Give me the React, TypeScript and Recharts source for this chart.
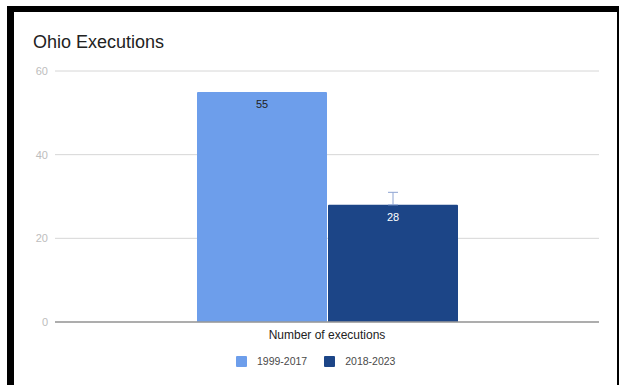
import React from "react";
import {
  Bar,
  BarChart,
  CartesianGrid,
  ErrorBar,
  LabelList,
  Legend,
  XAxis,
  YAxis,
} from "recharts";

const categories = ["Number of executions"];
const executions1999to2017 = [55];
const executions2018to2023 = [28];
const errors2018to2023 = [[0, 3]];
const seriesNames = ["1999-2017", "2018-2023"];
const seriesColors = ["#6d9eeb", "#1c4587"];
const yTicks = [0, 20, 40, 60];

const chartData = categories.map((name, i) => ({
  name,
  early: executions1999to2017[i],
  late: executions2018to2023[i],
  lateError: errors2018to2023[i],
}));

const font = "Arial, 'Liberation Sans', sans-serif";

function ChartLegend() {
  return (
    <div style={{ display: "flex", alignItems: "center", fontSize: 10.5, color: "#4a4a4a", fontFamily: font }}>
      {seriesNames.map((n, i) => (
        <div key={n} style={{ display: "flex", alignItems: "center", marginRight: i === 0 ? 17 : 0 }}>
          <span
            style={{
              display: "inline-block",
              width: 11,
              height: 11,
              background: seriesColors[i],
              borderRadius: 1,
              marginRight: 10,
            }}
          />
          {n}
        </div>
      ))}
    </div>
  );
}

export default function App() {
  return (
    <div style={{ position: "relative", width: 619, height: 385, background: "#fff", overflow: "hidden" }}>
      <style>{"body{margin:0}"}</style>
      <div style={{ position: "absolute", left: 7, top: 6, width: 612, height: 379, background: "#000" }} />
      <div style={{ position: "absolute", left: 14, top: 12, width: 603, height: 373, background: "#fff" }} />
      <div
        style={{
          position: "absolute",
          left: 33,
          top: 31,
          fontSize: 18,
          fontFamily: font,
          color: "#222",
          lineHeight: "22px",
        }}
      >
        Ohio Executions
      </div>
      <div style={{ position: "absolute", left: 0, top: 0 }}>
        <BarChart
          width={619}
          height={385}
          data={chartData}
          margin={{ top: 71, right: 20, bottom: 33, left: 25 }}
          barGap={1}
          style={{ fontFamily: font }}
        >
          <CartesianGrid vertical={false} stroke="#d6d6d6" />
          <XAxis
            dataKey="name"
            height={30}
            tickLine={false}
            tickSize={0}
            tickMargin={8}
            axisLine={{ stroke: "#999", strokeWidth: 1.5 }}
            tick={{ fontSize: 12, fill: "#222" }}
          />
          <YAxis
            width={30}
            domain={[0, 60]}
            ticks={yTicks}
            tickLine={false}
            tickSize={0}
            tickMargin={7}
            axisLine={false}
            tick={{ fontSize: 11, fill: "#bdbdbd" }}
          />
          <Legend
            layout="horizontal"
            verticalAlign="middle"
            align="center"
            wrapperStyle={{ position: "absolute", left: 236, top: 355, width: "auto", height: "auto" }}
            content={() => <ChartLegend />}
          />
          <Bar
            dataKey="early"
            name={seriesNames[0]}
            fill={seriesColors[0]}
            barSize={130}
            radius={[1, 1, 0, 0]}
            isAnimationActive={false}
          >
            <LabelList dataKey="early" position="insideTop" offset={8} fill="#222" fontSize={11} />
          </Bar>
          <Bar
            dataKey="late"
            name={seriesNames[1]}
            fill={seriesColors[1]}
            barSize={130}
            radius={[1, 1, 0, 0]}
            isAnimationActive={false}
          >
            <ErrorBar dataKey="lateError" width={5} stroke="#8ea4d2" strokeWidth={1} />
            <LabelList dataKey="late" position="insideTop" offset={8} fill="#fff" fontSize={11} />
          </Bar>
        </BarChart>
      </div>
    </div>
  );
}
